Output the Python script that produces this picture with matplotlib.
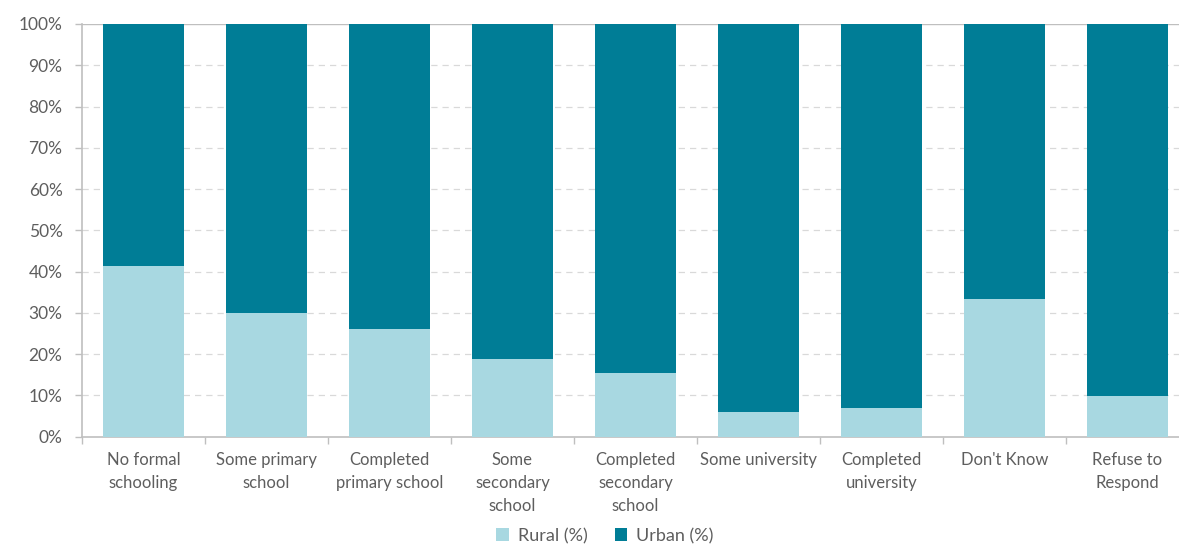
import matplotlib
matplotlib.use("Agg")
import matplotlib.pyplot as plt
import numpy as np
from matplotlib.ticker import FixedLocator, FuncFormatter

categories = [
    "No formal\nschooling",
    "Some primary\nschool",
    "Completed\nprimary school",
    "Some\nsecondary\nschool",
    "Completed\nsecondary\nschool",
    "Some university",
    "Completed\nuniversity",
    "Don't Know",
    "Refuse to\nRespond",
]
rural = [41.3, 29.9, 26.1, 18.8, 15.5, 5.9, 6.9, 33.3, 9.9]
urban = [100 - r for r in rural]

RURAL_COLOR = "#A8D8E1"
URBAN_COLOR = "#007D96"
TEXT_COLOR = "#5E5E5E"
AXIS_COLOR = "#BFBFBF"

plt.rcParams["font.family"] = ["Lato", "DejaVu Sans"]

fig = plt.figure(figsize=(11.79, 5.44), dpi=100)
W, H = 1179, 544
left, right = 82, 1189
bottom, top = 436.7, 24.0
ax = fig.add_axes([left / W, 1 - bottom / H, (right - left) / W, (bottom - top) / H])

x = np.arange(len(categories))
bw = 0.665
ax.bar(x, rural, width=bw, color=RURAL_COLOR, label="Rural (%)", zorder=3)
ax.bar(x, urban, width=bw, bottom=rural, color=URBAN_COLOR, label="Urban (%)", zorder=3)

ax.set_xlim(-0.5, len(categories) - 0.5)
ax.set_ylim(0, 100)

# y axis
ax.set_yticks(np.arange(0, 101, 10))
ax.yaxis.set_major_formatter(FuncFormatter(lambda v, p: f"{int(v)}%"))
ax.tick_params(axis="y", length=5, width=1, color=AXIS_COLOR, pad=9,
               labelsize=12.5, labelcolor=TEXT_COLOR)
for v in range(10, 100, 10):
    ax.axhline(v, color="#D9D9D9", lw=0.9, ls=(0, (5, 4)), zorder=1)
ax.axhline(100, color=AXIS_COLOR, lw=1, zorder=1)

# x axis: labels at centres, tick marks at category boundaries
ax.set_xticks(x)
ax.set_xticklabels(categories, fontsize=12, color=TEXT_COLOR, linespacing=1.55)
ax.tick_params(axis="x", which="major", length=0, pad=11)
ax.xaxis.set_minor_locator(FixedLocator(np.arange(-0.5, len(categories), 1.0)))
ax.tick_params(axis="x", which="minor", length=5, width=1, color=AXIS_COLOR)

for s in ["top", "right"]:
    ax.spines[s].set_visible(False)
for s in ["left", "bottom"]:
    ax.spines[s].set_color(AXIS_COLOR)
    ax.spines[s].set_linewidth(1.2)

fig.legend(loc="center", bbox_to_anchor=(605 / W, 1 - 536 / H), ncol=2,
           frameon=False, fontsize=13, labelcolor=TEXT_COLOR,
           handlelength=0.7, handleheight=0.7, handletextpad=0.5,
           columnspacing=1.5)

fig.savefig("out.png", dpi=100)
